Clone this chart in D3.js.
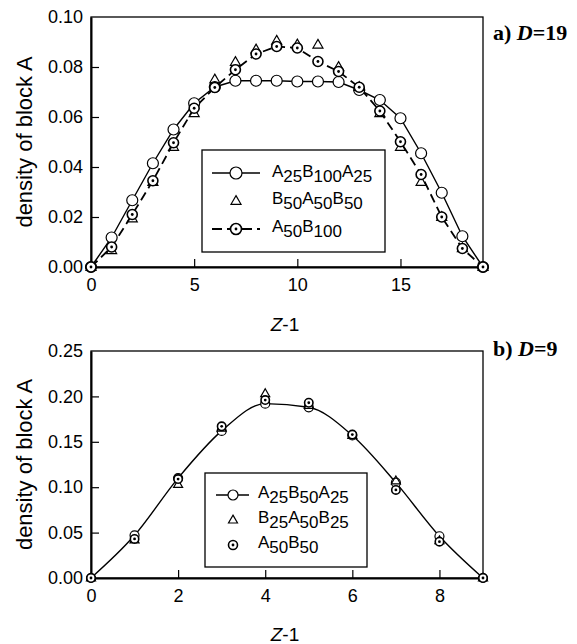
<!DOCTYPE html>
<html>
<head>
<meta charset="utf-8">
<script src="https://cdn.jsdelivr.net/npm/d3@7"></script>
<style>
  body { margin: 0; background: #fff; }
  svg text { font-family: "Liberation Sans", Arial, sans-serif; fill: #000; }
</style>
</head>
<body>
<div class="chart"></div>
<script>
// panel a) D=19
const zTop = d3.range(0, 20);
const topA25B100A25 = [0, 0.0118, 0.0267, 0.0415, 0.055, 0.0655, 0.072, 0.0745, 0.0745, 0.0745,
  0.0742, 0.0742, 0.074, 0.0708, 0.0668, 0.0595, 0.0455, 0.0297, 0.0123, 0];
const topB50A50B50 = [0, 0.0067, 0.0194, 0.034, 0.048, 0.0615, 0.075, 0.082, 0.087, 0.0905,
  0.089, 0.0889, 0.080, 0.072, 0.0615, 0.048, 0.034, 0.020, 0.0075, 0];
const topA50B100 = [0, 0.008, 0.021, 0.0345, 0.0497, 0.0635, 0.0718, 0.0789, 0.0852, 0.0882,
  0.0876, 0.0822, 0.0782, 0.0719, 0.0624, 0.0501, 0.037, 0.020, 0.0074, 0];
const topXTicks = [0, 5, 10, 15];
const topYTicks = [0, 0.02, 0.04, 0.06, 0.08, 0.10];

// panel b) D=9
const zBot = d3.range(0, 10);
const botA25B50A25 = [0, 0.047, 0.110, 0.162, 0.192, 0.188, 0.157, 0.105, 0.046, 0];
const botB25A50B25 = [0, 0.042, 0.103, 0.165, 0.203, 0.190, 0.157, 0.107, 0.041, 0];
const botA50B50 = [0, 0.043, 0.109, 0.167, 0.196, 0.193, 0.158, 0.097, 0.040, 0];
const botXTicks = [0, 2, 4, 6, 8];
const botYTicks = [0, 0.05, 0.10, 0.15, 0.20, 0.25];

const W = 577, H = 644;
const svg = d3.select('.chart').append('svg')
  .attr('width', W)
  .attr('height', H);

// letters on the baseline, digits dropped as subscripts
function subLabel(g, parts, x, y) {
  const t = g.append('text').attr('x', x).attr('y', y).style('font-size', '17px');
  parts.forEach((p, i) => {
    const prevSub = i > 0 ? parts[i - 1][1] : 0;
    let dy = 0;
    if (p[1] && !prevSub) dy = 5;
    if (!p[1] && prevSub) dy = -5;
    t.append('tspan').text(p[0]).attr('dy', dy);
  });
  return t;
}

function dotCircle(g, cx, cy, r) {
  g.append('circle').attr('cx', cx).attr('cy', cy).attr('r', r)
    .attr('fill', '#fff').attr('stroke', '#000').attr('stroke-width', 1.6);
  g.append('circle').attr('cx', cx).attr('cy', cy).attr('r', 1.4).attr('fill', '#000');
}

function triangle(g, cx, cy, s) {
  const h = s * 0.87;
  g.append('path')
    .attr('d', `M${cx},${cy - h * 0.62}L${cx + s / 2},${cy + h * 0.38}L${cx - s / 2},${cy + h * 0.38}Z`)
    .attr('fill', 'none').attr('stroke', '#000').attr('stroke-width', 1.2);
}

function panel(opt) {
  const x = d3.scaleLinear().domain(opt.xDomain).range([opt.left, opt.right]);
  const y = d3.scaleLinear().domain(opt.yDomain).range([opt.bottom, opt.top]);
  const g = svg.append('g');

  // frame
  g.append('rect')
    .attr('x', opt.left).attr('y', opt.top)
    .attr('width', opt.right - opt.left).attr('height', opt.bottom - opt.top)
    .attr('fill', 'none').attr('stroke', '#000').attr('stroke-width', 1.3);

  const xAxis = g.append('g')
    .attr('transform', `translate(0,${opt.bottom})`)
    .call(d3.axisBottom(x).tickValues(opt.xTicks).tickSizeInner(-8).tickSizeOuter(0).tickPadding(11));
  const yAxis = g.append('g')
    .attr('transform', `translate(${opt.left},0)`)
    .call(d3.axisLeft(y).tickValues(opt.yTicks).tickFormat(d3.format('.2f'))
      .tickSizeInner(-8).tickSizeOuter(0).tickPadding(8));
  [xAxis, yAxis].forEach((a) => {
    a.select('.domain').attr('stroke-width', 2);
    a.selectAll('.tick line').attr('stroke-width', 1.2);
    a.selectAll('.tick text').style('font-size', '18px').attr('font-family', null);
  });
  // no tick marks at the ends
  xAxis.selectAll('.tick').filter((d) => d === opt.xDomain[0]).select('line').remove();
  yAxis.selectAll('.tick').filter((d) => d === opt.yDomain[0] || d === opt.yDomain[1]).select('line').remove();

  // axis titles
  const xt = g.append('text')
    .attr('x', (opt.left + opt.right) / 2 - 2).attr('y', opt.xTitleY)
    .attr('text-anchor', 'middle').style('font-size', '19px');
  xt.append('tspan').text('Z').style('font-style', 'italic');
  xt.append('tspan').text('-1');

  g.append('text')
    .attr('transform', `translate(${opt.yTitleX},${(opt.top + opt.bottom) / 2}) rotate(-90)`)
    .attr('text-anchor', 'middle').style('font-size', '22px')
    .text('density of block A');

  // panel tag
  const tag = g.append('text')
    .attr('x', opt.right + 10).attr('y', opt.tagY)
    .style('font-family', '"Liberation Serif", "Times New Roman", serif')
    .style('font-size', '22px').style('font-weight', 'bold');
  tag.append('tspan').text(opt.tag[0]);
  tag.append('tspan').text('D').style('font-style', 'italic');
  tag.append('tspan').text(opt.tag[1]);

  return { g, x, y };
}

// ---------- panel a ----------
const pa = panel({
  left: 91, right: 483, top: 17, bottom: 267,
  xDomain: [0, 19], yDomain: [0, 0.10],
  xTicks: topXTicks, yTicks: topYTicks,
  xTitleY: 331, yTitleX: 32, tagY: 40, tag: ['a) ', '=19']
});

const lineA = d3.line().x((d, i) => pa.x(zTop[i])).y((d) => pa.y(d));
pa.g.append('path').datum(topA25B100A25).attr('d', lineA)
  .attr('fill', 'none').attr('stroke', '#000').attr('stroke-width', 1.4);
pa.g.append('path').datum(topA50B100).attr('d', lineA)
  .attr('fill', 'none').attr('stroke', '#000').attr('stroke-width', 1.8)
  .attr('stroke-dasharray', '9,5');

topA25B100A25.forEach((v, i) => {
  pa.g.append('circle').attr('cx', pa.x(zTop[i])).attr('cy', pa.y(v)).attr('r', 5.5)
    .attr('fill', '#fff').attr('stroke', '#000').attr('stroke-width', 1.2);
});
topB50A50B50.forEach((v, i) => triangle(pa.g, pa.x(zTop[i]), pa.y(v), 10));
topA50B100.forEach((v, i) => dotCircle(pa.g, pa.x(zTop[i]), pa.y(v), 5));

// legend a
const la = pa.g.append('g');
la.append('rect').attr('x', 202).attr('y', 150).attr('width', 183).attr('height', 102)
  .attr('fill', '#fff').attr('stroke', '#000').attr('stroke-width', 1.3);
la.append('line').attr('x1', 212).attr('x2', 260).attr('y1', 173).attr('y2', 173)
  .attr('stroke', '#000').attr('stroke-width', 1.4);
la.append('circle').attr('cx', 236).attr('cy', 173).attr('r', 6)
  .attr('fill', '#fff').attr('stroke', '#000').attr('stroke-width', 1.2);
triangle(la, 236, 201, 10);
la.append('line').attr('x1', 212).attr('x2', 260).attr('y1', 229).attr('y2', 229)
  .attr('stroke', '#000').attr('stroke-width', 1.8).attr('stroke-dasharray', '10,5');
dotCircle(la, 236, 229, 5.5);
subLabel(la, [['A', 0], ['25', 1], ['B', 0], ['100', 1], ['A', 0], ['25', 1]], 272, 177);
subLabel(la, [['B', 0], ['50', 1], ['A', 0], ['50', 1], ['B', 0], ['50', 1]], 272, 204);
subLabel(la, [['A', 0], ['50', 1], ['B', 0], ['100', 1]], 272, 232);

// ---------- panel b ----------
const pb = panel({
  left: 91, right: 483, top: 351, bottom: 578,
  xDomain: [0, 9], yDomain: [0, 0.25],
  xTicks: botXTicks, yTicks: botYTicks,
  xTitleY: 641, yTitleX: 32, tagY: 356, tag: ['b) ', '=9']
});

const lineB = d3.line().x((d, i) => pb.x(zBot[i])).y((d) => pb.y(d)).curve(d3.curveMonotoneX);
pb.g.append('path').datum(botA25B50A25).attr('d', lineB)
  .attr('fill', 'none').attr('stroke', '#000').attr('stroke-width', 1.4);

botA25B50A25.forEach((v, i) => {
  pb.g.append('circle').attr('cx', pb.x(zBot[i])).attr('cy', pb.y(v)).attr('r', 4.5)
    .attr('fill', '#fff').attr('stroke', '#000').attr('stroke-width', 1.2);
});
botB25A50B25.forEach((v, i) => triangle(pb.g, pb.x(zBot[i]), pb.y(v), 9));
botA50B50.forEach((v, i) => dotCircle(pb.g, pb.x(zBot[i]), pb.y(v), 4.2));

// legend b
const lb = pb.g.append('g');
lb.append('rect').attr('x', 205).attr('y', 473).attr('width', 162).attr('height', 94)
  .attr('fill', '#fff').attr('stroke', '#000').attr('stroke-width', 1.3);
lb.append('line').attr('x1', 216).attr('x2', 249).attr('y1', 495).attr('y2', 495)
  .attr('stroke', '#000').attr('stroke-width', 1.4);
lb.append('circle').attr('cx', 233).attr('cy', 495).attr('r', 5)
  .attr('fill', '#fff').attr('stroke', '#000').attr('stroke-width', 1.2);
triangle(lb, 233, 520, 9);
dotCircle(lb, 233, 545, 4.5);
subLabel(lb, [['A', 0], ['25', 1], ['B', 0], ['50', 1], ['A', 0], ['25', 1]], 258, 498);
subLabel(lb, [['B', 0], ['25', 1], ['A', 0], ['50', 1], ['B', 0], ['25', 1]], 258, 523);
subLabel(lb, [['A', 0], ['50', 1], ['B', 0], ['50', 1]], 258, 548);
</script>
</body>
</html>
